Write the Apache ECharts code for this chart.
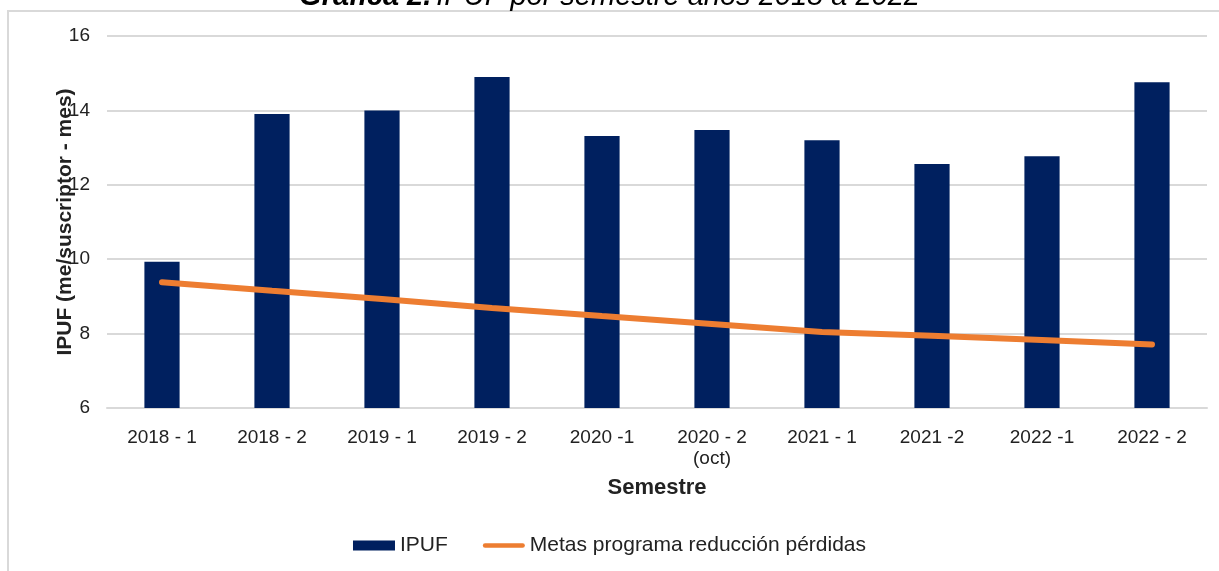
<!DOCTYPE html>
<html>
<head>
<meta charset="utf-8">
<script src="https://cdn.jsdelivr.net/npm/echarts@6/dist/echarts.min.js"></script>
<style>
  html, body { margin: 0; padding: 0; background: #fff; }
  #main { width: 1219px; height: 571px; }
</style>
</head>
<body>
<div id="main"></div>
<script>
var myChart = echarts.init(document.getElementById('main'));

// Data
var semestres = ['2018 - 1', '2018 - 2', '2019 - 1', '2019 - 2', '2020 -1', '2020 - 2\n(oct)', '2021 - 1', '2021 -2', '2022 -1', '2022 - 2'];
var ipuf = [9.93, 13.9, 14.0, 14.9, 13.31, 13.47, 13.2, 12.56, 12.77, 14.76];
var metas = [9.38, 9.15, 8.93, 8.69, 8.47, 8.26, 8.04, 7.94, 7.83, 7.71];

var font = 'Liberation Sans, Arial, sans-serif';

var option = {
    textStyle: { fontFamily: font },
    title: {
        text: '{b|Gráfica 2.} {i|IPUF por semestre años 2018 a 2022}',
        left: 'center',
        top: -23,
        textStyle: {
            rich: {
                b: { fontSize: 29, fontWeight: 'bold', fontStyle: 'italic', color: '#000', fontFamily: font },
                i: { fontSize: 29, fontWeight: 'normal', fontStyle: 'italic', color: '#000', fontFamily: font }
            }
        }
    },
    graphic: [
        {
            type: 'rect',
            shape: { x: 8, y: 11, width: 1300, height: 700 },
            style: { fill: 'none', stroke: '#d9d9d9', lineWidth: 2 },
            z: -1
        }
    ],
    grid: {
        left: 107,
        right: 12,
        top: 36,
        bottom: 163
    },
    legend: {
        bottom: 10,
        left: 'center',
        itemGap: 35,
        itemWidth: 42,
        itemHeight: 10,
        textStyle: { fontSize: 21, color: '#222', fontFamily: font },
        data: [
            { name: 'IPUF', icon: 'rect' },
            { name: 'Metas programa reducción pérdidas', icon: 'path://M2.5,0 L44.5,0 A2.5,2.5 0 0 1 44.5,5 L2.5,5 A2.5,2.5 0 0 1 2.5,0 Z' }
        ]
    },
    xAxis: {
        type: 'category',
        data: semestres,
        name: 'Semestre',
        nameLocation: 'middle',
        nameGap: 69,
        nameMoveOverlap: false,
        nameTextStyle: { fontSize: 22, fontWeight: 'bold', color: '#222' },
        axisLine: { lineStyle: { color: '#d9d9d9', width: 2 } },
        axisTick: { show: false },
        axisLabel: { fontSize: 19, color: '#222', margin: 19, lineHeight: 21 }
    },
    yAxis: {
        type: 'value',
        min: 6,
        max: 16,
        interval: 2,
        name: 'IPUF (me/suscriptor - mes)',
        nameLocation: 'middle',
        nameGap: 31,
        nameMoveOverlap: false,
        nameTextStyle: { fontSize: 21, fontWeight: 'bold', color: '#222' },
        axisLine: { show: false },
        axisTick: { show: false },
        axisLabel: { fontSize: 19, color: '#222', margin: 17 },
        splitLine: { lineStyle: { color: '#d9d9d9', width: 2 } }
    },
    series: [
        {
            name: 'IPUF',
            type: 'bar',
            data: ipuf,
            barWidth: '32%',
            itemStyle: { color: '#00205f' }
        },
        {
            name: 'Metas programa reducción pérdidas',
            type: 'line',
            data: metas,
            symbol: 'none',
            lineStyle: { color: '#ed7d31', width: 6, cap: 'round' },
            itemStyle: { color: '#ed7d31' }
        }
    ]
};

myChart.setOption(option);
</script>
</body>
</html>
